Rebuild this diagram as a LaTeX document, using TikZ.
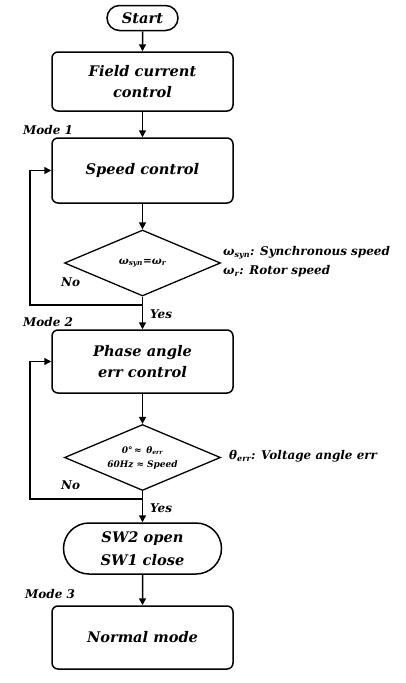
\documentclass[tikz,border=0pt]{standalone}
\usepackage{fontspec}
\setmainfont{DejaVu Serif}
\usetikzlibrary{arrows.meta,shapes.geometric,shapes.misc}
\begin{document}
\begin{tikzpicture}[x=1pt,y=-1pt,
  every node/.style={font=\bfseries\itshape},
  box/.style={draw,line width=1.5pt,rounded corners=6pt,minimum width=181pt,inner sep=0pt,align=center,font=\bfseries\itshape\fontsize{14.6}{21.5}\selectfont},
  term/.style={draw,line width=1.5pt,rounded rectangle,inner sep=0pt,align=center,font=\bfseries\itshape\fontsize{14.6}{23}\selectfont},
  dec/.style={draw,line width=1.3pt,diamond,aspect=2.36,inner sep=0pt,minimum width=156pt,minimum height=66pt,align=center,font=\bfseries\itshape\fontsize{9}{14}\selectfont},
  flow/.style={line width=1.5pt,-{Triangle[length=7pt,width=7pt]}},
  lab/.style={font=\bfseries\itshape\fontsize{12}{14}\selectfont,anchor=west,inner sep=0pt},
  yn/.style={font=\bfseries\itshape\fontsize{12}{14}\selectfont,anchor=west,inner sep=0pt}
]
\useasboundingbox (0,0) rectangle (406,683);
\node[term,minimum width=71pt,minimum height=25pt] (start) at (142.5,18) {Start};
\node[box,minimum height=59pt] (field) at (142.5,81.5) {Field current\\control};
\node[box,minimum height=65pt] (speed) at (142.5,170.5) {Speed control};
\node[dec,font=\bfseries\itshape\fontsize{10.5}{14}\selectfont] (d1) at (142.5,263) {ω\textsubscript{syn}=ω\textsubscript{r}};
\node[box,minimum height=63pt] (phase) at (142.5,361.5) {Phase angle\\err control};
\node[dec] (d2) at (142.5,457.5) {0°\,≈\,~θ\textsubscript{err}\\60Hz ≈ Speed};
\node[term,minimum width=158pt,minimum height=51pt] (sw) at (142.5,548.5) {SW2 open\\SW1 close};
\node[box,minimum height=63pt] (normal) at (142.5,637.5) {Normal mode};

\node[yn] (m1) at (23,130) {Mode 1};
\node[yn] (m2) at (23,322) {Mode 2};
\node[yn] (m3) at (25,594) {Mode 3};
\node[yn] (no1) at (61,282) {No};
\node[yn] (no2) at (61,485) {No};
\node[yn] (yes1) at (150,314) {Yes};
\node[yn] (yes2) at (150,508) {Yes};

\node[lab] (a1) at (223,253) {ω\textsubscript{syn}: Synchronous speed};
\node[lab] (a2) at (223,271) {ω\textsubscript{r}: Rotor speed};
\node[lab] (a3) at (229,456) {θ\textsubscript{err}: Voltage angle err};

\coordinate (c1) at (30,305);
\coordinate (c2) at (30,499);

\draw[flow] (start) -- (field);
\draw[flow] (field) -- (speed);
\draw[flow] (speed) -- (d1);
\draw[flow] (d1) -- (phase);
\draw[flow] (d1.south |- c1) -- (c1) |- (speed.west);
\draw[flow] (phase) -- (d2);
\draw[flow] (d2) -- (sw);
\draw[flow] (d2.south |- c2) -- (c2) |- (phase.west);
\draw[flow] (sw) -- (normal);
\end{tikzpicture}
\end{document}
